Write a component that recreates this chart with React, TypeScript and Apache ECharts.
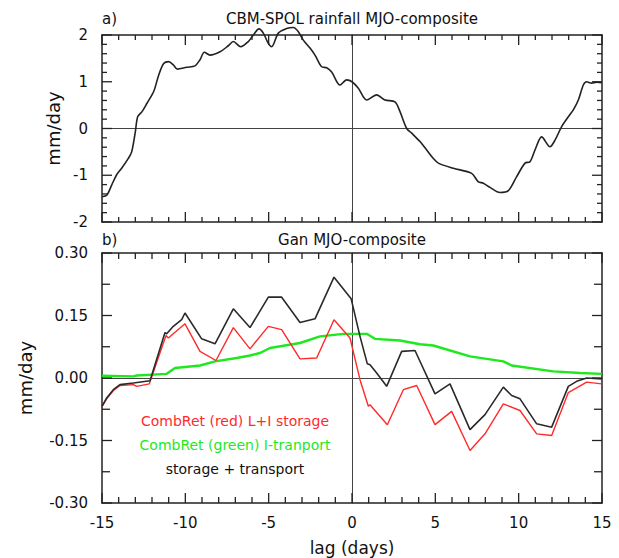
import React, { useEffect, useRef } from "react";
import * as echarts from "echarts";

// Panel a) CBM-SPOL rainfall MJO-composite
const lagA = [-15.0, -14.7, -14.42, -14.12, -13.82, -13.42, -13.22, -13.0, -12.86, -12.6, -12.3, -11.9, -11.6, -11.3, -11.0, -10.72, -10.48, -9.92, -9.42, -9.12, -8.86, -8.52, -7.92, -7.42, -7.12, -6.68, -6.22, -5.92, -5.58, -5.32, -5.02, -4.82, -4.42, -3.92, -3.52, -3.22, -2.92, -2.52, -2.22, -1.82, -1.52, -1.22, -0.72, -0.32, 0, 0.38, 0.88, 1.48, 1.98, 2.58, 2.88, 3.28, 3.58, 4.08, 4.48, 4.88, 5.18, 6.08, 7.18, 7.58, 7.88, 8.28, 8.88, 9.38, 9.88, 10.38, 10.68, 10.98, 11.38, 11.88, 12.18, 12.58, 12.98, 13.28, 13.58, 13.88, 14.08, 14.38, 14.68, 14.98];
const rainA = [-1.46, -1.42, -1.21, -0.99, -0.85, -0.64, -0.5, -0.07, 0.25, 0.36, 0.54, 0.79, 1.14, 1.39, 1.43, 1.36, 1.27, 1.31, 1.34, 1.47, 1.63, 1.57, 1.64, 1.77, 1.86, 1.75, 1.86, 2.0, 2.13, 2.04, 1.82, 1.75, 2.04, 2.14, 2.16, 2.07, 1.89, 1.72, 1.57, 1.32, 1.3, 1.21, 0.93, 1.04, 1.0, 0.86, 0.61, 0.72, 0.61, 0.57, 0.36, 0.0, -0.1, -0.28, -0.46, -0.64, -0.74, -0.85, -0.96, -1.14, -1.17, -1.26, -1.37, -1.33, -1.03, -0.74, -0.71, -0.46, -0.18, -0.39, -0.25, 0.04, 0.25, 0.4, 0.61, 0.93, 1.0, 0.97, 0.99, 0.98];

// Panel b) Gan MJO-composite
const lagBlack = [-15.0, -14.72, -14.32, -13.92, -13.12, -12.12, -11.22, -11.12, -10.72, -10.22, -10.02, -9.02, -8.22, -7.12, -6.12, -5.02, -4.22, -3.12, -2.22, -1.08, -0.05, 0.48, 0.92, 1.08, 1.48, 2.08, 2.98, 3.78, 4.98, 5.88, 7.08, 7.98, 9.08, 9.58, 10.08, 11.08, 11.98, 12.98, 13.48, 14.08, 14.98];
const storageTransport = [-0.068, -0.048, -0.028, -0.016, -0.012, -0.0065, 0.109, 0.106, 0.124, 0.14, 0.156, 0.094, 0.082, 0.166, 0.121, 0.194, 0.194, 0.133, 0.142, 0.242, 0.19, 0.1, 0.034, 0.032, 0.012, -0.02, 0.064, 0.066, -0.038, -0.014, -0.124, -0.088, -0.022, -0.042, -0.05, -0.11, -0.118, -0.02, -0.008, 0.0, -0.002];

const lagRed = [-15.0, -14.72, -14.32, -13.92, -13.12, -12.92, -12.16, -11.16, -11.02, -10.02, -9.12, -8.16, -7.12, -6.12, -5.02, -4.22, -3.12, -2.12, -1.08, -0.12, 0.48, 0.98, 1.08, 2.12, 3.08, 3.88, 4.98, 5.98, 7.08, 7.98, 9.08, 10.08, 11.08, 11.98, 12.98, 14.08, 14.98];
const storageRed = [-0.068, -0.05, -0.03, -0.018, -0.016, -0.02, -0.014, 0.102, 0.096, 0.13, 0.064, 0.042, 0.121, 0.07, 0.124, 0.116, 0.046, 0.048, 0.14, 0.096, -0.004, -0.068, -0.064, -0.112, -0.028, -0.018, -0.112, -0.08, -0.174, -0.134, -0.062, -0.078, -0.134, -0.138, -0.035, -0.01, -0.014];

const lagGreen = [-15.0, -13.12, -12.92, -11.12, -10.62, -9.12, -8.22, -6.92, -6.12, -5.52, -4.92, -3.12, -1.92, -0.52, 0.88, 1.38, 2.88, 4.08, 4.88, 7.08, 9.08, 9.58, 12.08, 13.68, 14.98];
const transportGreen = [0.0055, 0.004, 0.006, 0.01, 0.024, 0.03, 0.04, 0.048, 0.054, 0.06, 0.072, 0.084, 0.1, 0.106, 0.106, 0.094, 0.09, 0.081, 0.078, 0.052, 0.04, 0.03, 0.016, 0.012, 0.01];

// Tick positions (drawn inward on all four sides of each panel)
const xTicks = [-15, -14, -13, -12, -11, -10, -9, -8, -7, -6, -5, -4, -3, -2, -1, 0, 1, 2, 3, 4, 5, 6, 7, 8, 9, 10, 11, 12, 13, 14, 15];
const xMajor = [-15, -10, -5, 0, 5, 10, 15];
const yTicksA = [-2, -1.8, -1.6, -1.4, -1.2, -1, -0.8, -0.6, -0.4, -0.2, 0, 0.2, 0.4, 0.6, 0.8, 1, 1.2, 1.4, 1.6, 1.8, 2];
const yMajorA = [-2, -1, 0, 1, 2];
const yTicksB = [-0.3, -0.225, -0.15, -0.075, 0, 0.075, 0.15, 0.225, 0.3];
const yMajorB = [-0.3, -0.15, 0, 0.15, 0.3];

const pair = (xs: number[], ys: number[]) => xs.map((x, i) => [x, ys[i]]);
const isMajor = (v: number, majors: number[]) => majors.some((m) => Math.abs(m - v) < 1e-9);

const FONT = "DejaVu Sans";
const AXIS_COLOR = "#222";
const RED = "#ff2a2a";
const GREEN = "#1ee81e";

function xAx(gridIndex: number, position: string, labels: boolean, name?: string) {
  return {
    type: "value",
    gridIndex,
    position,
    min: -15,
    max: 15,
    interval: 5,
    name: name || "",
    nameLocation: "middle",
    nameGap: 36,
    nameTextStyle: { fontFamily: FONT, fontSize: 17, color: "#111" },
    axisLine: { show: true, onZero: false, lineStyle: { color: AXIS_COLOR, width: 1.5 } },
    axisTick: { show: false },
    minorTick: { show: false },
    splitLine: { show: false },
    axisLabel: {
      show: labels,
      margin: 12,
      color: "#111",
      fontFamily: FONT,
      fontSize: 15,
      showMinLabel: true,
      showMaxLabel: true,
    },
  };
}

function yAx(gridIndex: number, position: string, labels: boolean, min: number, max: number, interval: number, digits: number, name?: string, nameGap?: number) {
  return {
    type: "value",
    gridIndex,
    position,
    min,
    max,
    interval,
    name: name || "",
    nameLocation: "middle",
    nameGap: nameGap || 40,
    nameTextStyle: { fontFamily: FONT, fontSize: 18, color: "#111" },
    axisLine: { show: true, onZero: false, lineStyle: { color: AXIS_COLOR, width: 1.5 } },
    axisTick: { show: false },
    minorTick: { show: false },
    splitLine: { show: false },
    axisLabel: {
      show: labels,
      margin: 14,
      color: "#111",
      fontFamily: FONT,
      fontSize: 15,
      showMinLabel: true,
      showMaxLabel: true,
      formatter: (v: number) => (Math.abs(v) < 1e-9 ? (0).toFixed(digits) : v.toFixed(digits)),
    },
  };
}

// zero reference lines drawn by extra axes sitting on zero
function zeroX(gridIndex: number) {
  return {
    type: "value",
    gridIndex,
    position: "bottom",
    min: -15,
    max: 15,
    axisLine: { show: true, onZero: true, lineStyle: { color: "#444", width: 1 } },
    axisTick: { show: false },
    minorTick: { show: false },
    axisLabel: { show: false },
    splitLine: { show: false },
  };
}
function zeroY(gridIndex: number, min: number, max: number) {
  return {
    type: "value",
    gridIndex,
    position: "left",
    min,
    max,
    axisLine: { show: true, onZero: true, lineStyle: { color: "#444", width: 1 } },
    axisTick: { show: false },
    minorTick: { show: false },
    axisLabel: { show: false },
    splitLine: { show: false },
  };
}

function tickLine(x1: number, y1: number, x2: number, y2: number) {
  return {
    type: "line",
    shape: { x1, y1, x2, y2 },
    style: { stroke: AXIS_COLOR, lineWidth: 1.3 },
  };
}

// custom series drawing inward x ticks (bottom and top edges) via the axis scale
function xTickSeries(axisIndex: number, majorLen: number, minorLen: number) {
  return {
    type: "custom",
    xAxisIndex: axisIndex,
    yAxisIndex: axisIndex,
    silent: true,
    clip: false,
    z: 5,
    encode: { x: 0, y: 1 },
    data: xTicks.map((v) => [v, 0, isMajor(v, xMajor) ? majorLen : minorLen]),
    renderItem: (params: any, api: any) => {
      const cs = params.coordSys;
      const px = api.coord([api.value(0), 0])[0];
      const L = api.value(2);
      const yb = cs.y + cs.height;
      return {
        type: "group",
        children: [tickLine(px, yb, px, yb - L), tickLine(px, cs.y, px, cs.y + L)],
      };
    },
  };
}

// custom series drawing inward y ticks (left and right edges) via the axis scale
function yTickSeries(axisIndex: number, ticks: number[], majors: number[], majorLen: number, minorLen: number) {
  return {
    type: "custom",
    xAxisIndex: axisIndex,
    yAxisIndex: axisIndex,
    silent: true,
    clip: false,
    z: 5,
    encode: { x: 0, y: 1 },
    data: ticks.map((v) => [0, v, isMajor(v, majors) ? majorLen : minorLen]),
    renderItem: (params: any, api: any) => {
      const cs = params.coordSys;
      const py = api.coord([0, api.value(1)])[1];
      const L = api.value(2);
      const xr = cs.x + cs.width;
      return {
        type: "group",
        children: [tickLine(cs.x, py, cs.x + L, py), tickLine(xr, py, xr - L, py)],
      };
    },
  };
}

function label(text: string, left: number, top: number, size: number, color: string, align: string) {
  return {
    text,
    left,
    top,
    padding: 0,
    textAlign: align,
    textStyle: { fontFamily: FONT, fontSize: size, fontWeight: "normal", color },
  };
}

export default function App() {
  const ref = useRef<HTMLDivElement>(null);
  useEffect(() => {
    if (!ref.current) return;
    const chart = echarts.init(ref.current, null, { renderer: "svg" });
    const option = {
      animation: false,
      title: [
        label("a)", 102, 11, 15, "#111", "left"),
        label("CBM-SPOL rainfall MJO-composite", 352, 11, 15, "#111", "center"),
        label("b)", 102, 232, 15, "#111", "left"),
        label("Gan MJO-composite", 352, 232, 15, "#111", "center"),
        label("CombRet (red) L+I storage", 235, 414, 14, RED, "center"),
        label("CombRet (green) I-tranport", 235, 438, 14, GREEN, "center"),
        label("storage + transport", 235, 462, 14, "#111", "center"),
      ],
      grid: [
        { left: 102, top: 35, width: 500, height: 187 },
        { left: 102, top: 253, width: 500, height: 250 },
      ],
      xAxis: [
        xAx(0, "bottom", false),
        xAx(0, "top", false),
        xAx(1, "bottom", true, "lag (days)"),
        xAx(1, "top", false),
        zeroX(0),
        zeroX(1),
      ],
      yAxis: [
        yAx(0, "left", true, -2, 2, 1, 0, "mm/day", 40),
        yAx(0, "right", false, -2, 2, 1, 0),
        yAx(1, "left", true, -0.3, 0.3, 0.15, 2, "mm/day", 68),
        yAx(1, "right", false, -0.3, 0.3, 0.15, 2),
        zeroY(0, -2, 2),
        zeroY(1, -0.3, 0.3),
      ],
      series: [
        {
          type: "line",
          xAxisIndex: 0,
          yAxisIndex: 0,
          data: pair(lagA, rainA),
          smooth: 0.3,
          showSymbol: false,
          clip: false,
          lineStyle: { color: "#222", width: 1.6 },
        },
        {
          type: "line",
          xAxisIndex: 2,
          yAxisIndex: 2,
          data: pair(lagGreen, transportGreen),
          showSymbol: false,
          lineStyle: { color: GREEN, width: 2.4 },
        },
        {
          type: "line",
          xAxisIndex: 2,
          yAxisIndex: 2,
          data: pair(lagRed, storageRed),
          showSymbol: false,
          lineStyle: { color: RED, width: 1.4 },
        },
        {
          type: "line",
          xAxisIndex: 2,
          yAxisIndex: 2,
          data: pair(lagBlack, storageTransport),
          showSymbol: false,
          lineStyle: { color: "#2a2a2a", width: 1.6 },
        },
        xTickSeries(0, 10, 5),
        yTickSeries(0, yTicksA, yMajorA, 10, 5),
        xTickSeries(2, 10, 6),
        yTickSeries(2, yTicksB, yMajorB, 10, 8),
      ],
    };
    chart.setOption(option as any);
    return () => chart.dispose();
  }, []);
  return (
    <div
      ref={ref}
      style={{ position: "fixed", left: 0, top: 0, width: 619, height: 558, background: "#fff" }}
    />
  );
}
